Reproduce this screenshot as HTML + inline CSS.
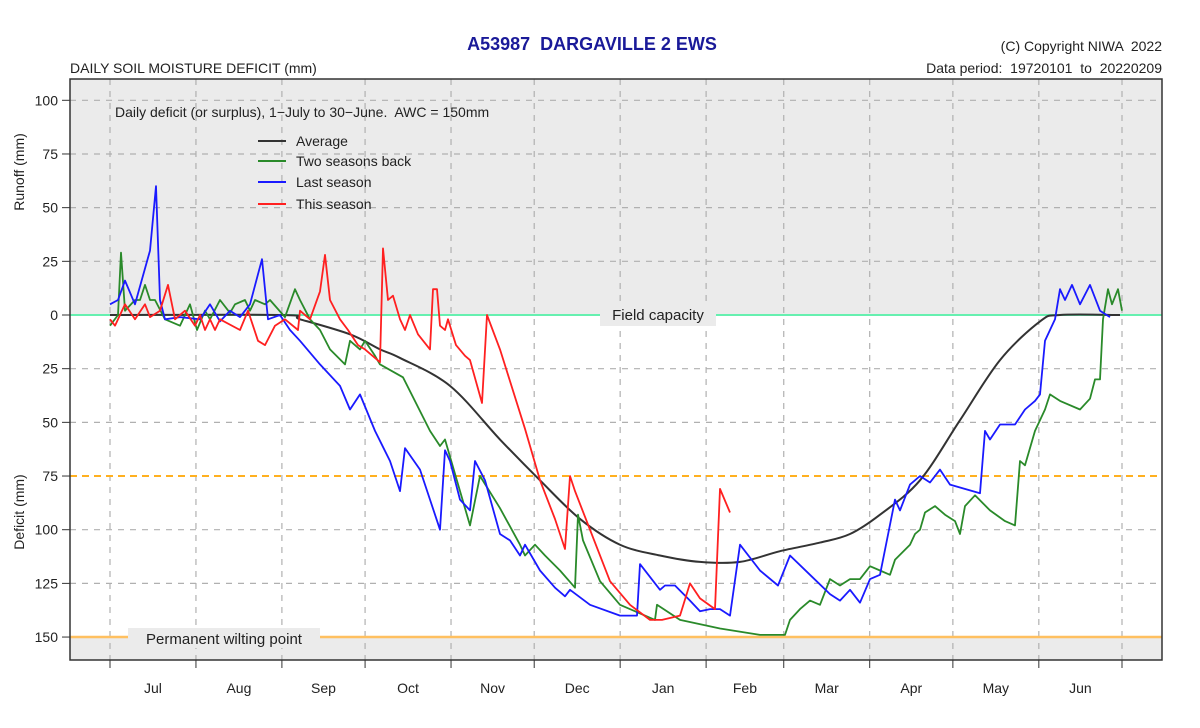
<!DOCTYPE html>
<html><head><meta charset="utf-8"><style>
body{margin:0;background:#fff;}
svg{font-family:"Liberation Sans",sans-serif;display:block}
</style></head><body>
<svg width="1200" height="728" viewBox="0 0 1200 728">
<g id="bg"></g>
<g id="grid"></g>
<g id="lines"></g>
<g id="axes"></g>
</svg>
<script>
const months=["Jul","Aug","Sep","Oct","Nov","Dec","Jan","Feb","Mar","Apr","May","Jun"];
const monthStart=[0,31,62,92,123,153,184,215,243,274,304,335,365];
const yTicksTop=[100,75,50,25];
const yTicksBot=[0,25,50,75,100,125,150];
const avgX=[110,282,300,350,380,400,450,500,540,580,620,660,700,740,780,820,850,880,920,960,1000,1040,1060,1120];
const avgV=[0,0,2,9,16,20,33,58,77,95,107,112,115,115,110,106,102,93,77,49,21,3,0,0];
const blueX=[110,118,125,135,150,156,160,165,180,200,210,220,230,240,250,262,268,280,290,300,320,340,350,360,375,390,400,405,420,430,440,445,450,460,470,475,485,500,510,520,525,540,555,565,570,590,620,637,640,660,665,675,690,700,710,720,730,740,760,778,790,810,830,840,850,860,870,880,895,900,910,920,930,940,950,980,985,990,1000,1015,1025,1035,1040,1045,1055,1060,1065,1072,1080,1090,1100,1110];
const blueV=[-5,-7,-16,-5,-30,-60,-7,2,1,2,-5,3,-2,1,-5,-26,2,0,7,12,23,33,44,37,54,68,82,62,72,86,100,63,68,86,91,68,77,102,105,112,107,119,127,131,128,135,140,140,116,128,126,126,133,138,137,137,140,107,119,126,112,121,130,133,128,134,123,121,86,91,79,75,78,72,79,83,54,58,51,51,44,40,37,12,2,-12,-7,-14,-5,-14,-2,1];
const greenX=[110,118,121,125,135,140,145,150,155,165,180,190,197,205,210,220,230,235,245,250,255,265,270,285,295,300,310,320,330,345,350,360,365,375,380,403,430,440,445,470,480,500,520,525,535,545,560,575,578,583,600,620,655,657,680,720,760,785,790,800,810,820,830,840,850,860,870,880,890,895,910,915,920,925,935,945,955,960,965,975,990,1005,1015,1020,1025,1035,1045,1050,1060,1080,1090,1095,1100,1103,1108,1112,1118,1122];
const greenV=[5,0,-29,-2,-7,-7,-14,-7,-7,2,5,-5,7,-2,2,-7,-1,-5,-7,-2,-7,-5,-7,1,-12,-7,2,7,16,23,12,16,12,19,23,29,54,61,58,98,75,90,107,112,107,112,119,127,93,105,124,135,142,135,142,146,149,149,142,137,133,135,123,126,123,123,117,119,121,114,107,102,100,92,89,93,96,102,89,84,91,96,98,68,70,54,44,37,40,44,39,30,30,2,-12,-5,-12,-2];
const redX=[110,115,125,135,145,150,160,168,175,185,195,200,205,210,215,220,240,248,258,265,275,285,298,300,310,320,325,330,340,348,358,365,375,380,383,388,393,400,405,410,418,430,433,437,440,445,448,456,465,470,482,487,500,525,540,555,565,570,575,590,610,630,650,662,680,690,700,715,720,730];
const redV=[2,5,-5,2,-5,1,-2,-14,2,-2,5,0,7,2,7,2,7,-2,12,14,5,2,7,-2,2,-11,-28,-7,2,7,14,16,20,22,-31,-7,-9,2,7,0,9,16,-12,-12,5,7,2,14,19,21,41,0,16,53,77,95,109,75,82,100,124,135,142,142,140,125,132,137,81,92];
const NS="http://www.w3.org/2000/svg";
const X0=110,X1=1122,Y0=315,PPU=2.147;
function xDay(d){return X0+d*(X1-X0)/365;}
function yVal(v){return Y0+v*PPU;}
function mk(tag,attrs,parent){const e=document.createElementNS(NS,tag);for(const k in attrs)e.setAttribute(k,attrs[k]);parent.appendChild(e);return e;}
const bg=document.getElementById('bg'),grid=document.getElementById('grid'),lines=document.getElementById('lines');
let r=mk('rect',{x:70,y:79,width:1092,height:236,fill:'#ebebeb'},bg);

r=mk('rect',{x:70,y:yVal(150),width:1092,height:660-yVal(150),fill:'#ebebeb'},bg);

monthStart.forEach(d=>{const l=mk('line',{x1:xDay(d),x2:xDay(d),y1:79,y2:660,stroke:'#b0b0b0','stroke-dasharray':'6,6','stroke-width':1.2},grid);
});
yTicksTop.forEach(v=>{const l=mk('line',{x1:70,x2:1162,y1:yVal(-v),y2:yVal(-v),stroke:'#b0b0b0','stroke-dasharray':'6,6','stroke-width':1.2},grid);
});
[25,50,100,125].forEach(v=>{const l=mk('line',{x1:70,x2:1162,y1:yVal(v),y2:yVal(v),stroke:'#b0b0b0','stroke-dasharray':'6,6','stroke-width':1.2},grid);
});
let l=mk('line',{x1:70,x2:1162,y1:yVal(75),y2:yVal(75),stroke:'#ffb020','stroke-dasharray':'7,5','stroke-width':2},grid);

l=mk('line',{x1:70,x2:1162,y1:yVal(150),y2:yVal(150),stroke:'#ffc060','stroke-width':2.5},grid);

l=mk('line',{x1:70,x2:1162,y1:Y0,y2:Y0,stroke:'#66f0b0','stroke-width':2},grid);

function series(xs,vs,color,name,w){const p=xs.map((x,i)=>x.toFixed(1)+','+yVal(vs[i]).toFixed(1)).join(' ');
const e=mk('polyline',{points:p,fill:'none',stroke:color,'stroke-width':w,'stroke-linejoin':'round'},lines);
}
function smooth(xs,vs,color,name,w){const P=xs.map((x,i)=>[x,yVal(vs[i])]);let d='M'+P[0][0]+','+P[0][1];
for(let i=0;i<P.length-1;i++){const p0=P[Math.max(0,i-1)],p1=P[i],p2=P[i+1],p3=P[Math.min(P.length-1,i+2)];
const c1=[p1[0]+(p2[0]-p0[0])/6,p1[1]+(p2[1]-p0[1])/6],c2=[p2[0]-(p3[0]-p1[0])/6,p2[1]-(p3[1]-p1[1])/6];
d+=' C'+c1.join(',')+' '+c2.join(',')+' '+p2.join(',');}
const e=mk('path',{d:d,fill:'none',stroke:color,'stroke-width':w},lines);
}
smooth(avgX,avgV,'#333','average-line',2);
series(greenX,greenV,'#2a8a2a','two-seasons-back-line',1.8);
series(blueX,blueV,'#1a1aff','last-season-line',1.8);
series(redX,redV,'#ff2020','this-season-line',1.8);
</script>
<svg width="1200" height="728" style="position:absolute;left:0;top:0">
<rect x="70" y="79" width="1092" height="581" fill="none" stroke="#333" stroke-width="1.5"/>
<rect x="600" y="304" width="116" height="22" fill="#ebebeb"/>
<text x="658" y="320" text-anchor="middle" font-size="15" fill="#222">Field capacity</text>
<rect x="128" y="628" width="192" height="20" fill="#ebebeb"/>
<text x="224" y="644" text-anchor="middle" font-size="15" fill="#222">Permanent wilting point</text>
<text x="592" y="50" text-anchor="middle" font-size="18" font-weight="bold" fill="#1a1a99" xml:space="preserve">A53987  DARGAVILLE 2 EWS</text>
<text x="70" y="73" font-size="14" fill="#222">DAILY SOIL MOISTURE DEFICIT (mm)</text>
<text x="1162" y="51" text-anchor="end" font-size="14" fill="#222" xml:space="preserve">(C) Copyright NIWA  2022</text>
<text x="1162" y="73" text-anchor="end" font-size="14" fill="#222" xml:space="preserve">Data period:  19720101  to  20220209</text>
<text x="115" y="117" font-size="14" fill="#222" xml:space="preserve">Daily deficit (or surplus), 1−July to 30−June.  AWC = 150mm</text>
<g font-size="14" fill="#222">
<line x1="258" x2="286" y1="141" y2="141" stroke="#333" stroke-width="2"/><text x="296" y="146">Average</text>
<line x1="258" x2="286" y1="161" y2="161" stroke="#2a8a2a" stroke-width="2"/><text x="296" y="166">Two seasons back</text>
<line x1="258" x2="286" y1="182" y2="182" stroke="#1a1aff" stroke-width="2"/><text x="296" y="187">Last season</text>
<line x1="258" x2="286" y1="204" y2="204" stroke="#ff2020" stroke-width="2"/><text x="296" y="209">This season</text>
</g>
<text transform="translate(24,172) rotate(-90)" text-anchor="middle" font-size="14" fill="#222">Runoff (mm)</text>
<text transform="translate(24,512) rotate(-90)" text-anchor="middle" font-size="14" fill="#222">Deficit (mm)</text>
<g id="ticks"></g>
</svg>
<script>
(function(){const t=document.getElementById('ticks');
yTicksTop.forEach(v=>{const y=yVal(-v);
const a=mk('line',{x1:62,x2:70,y1:y,y2:y,stroke:'#333'},t);
const s=mk('text',{x:58,y:y+5,'text-anchor':'end','font-size':14,fill:'#222'},t);s.textContent=v;});
yTicksBot.forEach(v=>{const y=yVal(v);
const a=mk('line',{x1:62,x2:70,y1:y,y2:y,stroke:'#333'},t);
const s=mk('text',{x:58,y:y+5,'text-anchor':'end','font-size':14,fill:'#222'},t);s.textContent=v;});
monthStart.forEach(d=>{const a=mk('line',{x1:xDay(d),x2:xDay(d),y1:660,y2:668,stroke:'#333'},t);});
months.forEach((m,i)=>{const s=mk('text',{x:xDay((monthStart[i]+monthStart[i+1])/2),y:693,'text-anchor':'middle','font-size':14,fill:'#222'},t);s.textContent=m;
});
})();
</script>
</body></html>
